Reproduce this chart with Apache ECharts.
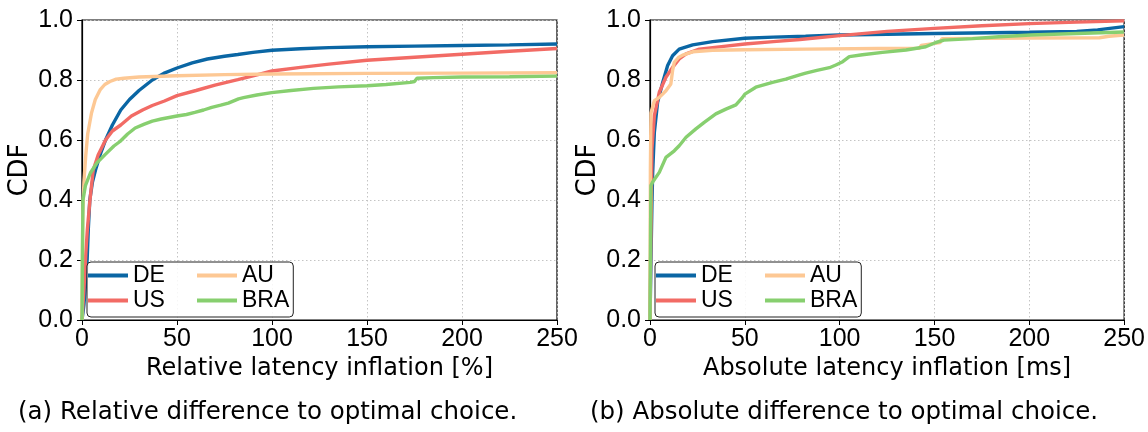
<!DOCTYPE html>
<html>
<head>
<meta charset="utf-8">
<script src="https://cdn.jsdelivr.net/npm/echarts@6/dist/echarts.min.js"></script>
<style>
  html, body { margin: 0; padding: 0; background: #fff; }
  #chart { width: 1148px; height: 432px; }
</style>
</head>
<body>
<div id="chart"></div>
<script>
// CDF curves of latency inflation per region, [inflation, cumulative fraction]
const seriesNames = ['DE', 'US', 'AU', 'BRA'];
const legendOrder = ['DE', 'AU', 'US', 'BRA'];
const xTicks = [0, 50, 100, 150, 200, 250];
const yTicks = [0.0, 0.2, 0.4, 0.6, 0.8, 1.0];

// (a) relative inflation [%]
const relDE = [[0,0],[1,0.05],[2,0.13],[2.7,0.2],[3.3,0.3],[4.1,0.4],[5.5,0.46],[7.1,0.5],[9.5,0.55],[12.4,0.6],[16,0.65],[20.4,0.7],[25,0.735],[30,0.765],[37,0.8],[43,0.822],[50,0.84],[58,0.857],[66,0.87],[75,0.879],[82,0.885],[90,0.892],[100,0.899],[115,0.904],[130,0.908],[150,0.911],[175,0.913],[200,0.915],[225,0.917],[250,0.92]];
const relUS = [[0,0],[1,0.1],[2,0.22],[2.8,0.3],[4.2,0.4],[5.9,0.5],[8.5,0.55],[12.4,0.6],[16,0.63],[20.4,0.65],[26,0.68],[31.9,0.7],[37,0.715],[43.4,0.73],[50,0.748],[60,0.765],[70,0.783],[82,0.801],[90,0.814],[100,0.83],[115,0.842],[130,0.853],[150,0.866],[175,0.876],[200,0.886],[225,0.896],[250,0.905]];
const relAU = [[0,0],[0.4,0.35],[1,0.46],[2,0.55],[3,0.62],[5,0.69],[7,0.735],[9.5,0.767],[12,0.785],[14.7,0.795],[18,0.803],[22,0.806],[30,0.81],[50,0.814],[75,0.818],[100,0.82],[150,0.822],[200,0.823],[250,0.824]];
const relBRA = [[0,0],[0.2,0.2],[0.5,0.4],[1.8,0.448],[4.4,0.49],[8,0.525],[12.4,0.553],[16.8,0.58],[20,0.595],[24,0.62],[28,0.64],[32.8,0.653],[37,0.663],[41.7,0.67],[50,0.68],[55,0.685],[59.4,0.692],[64,0.7],[68.3,0.709],[73,0.716],[77,0.723],[82.4,0.737],[85,0.741],[92,0.75],[99.8,0.758],[110,0.765],[121.8,0.772],[135,0.777],[150,0.781],[160,0.785],[172.8,0.792],[175,0.795],[176.3,0.806],[185,0.808],[200,0.81],[225,0.811],[250,0.813]];

// (b) absolute inflation [ms]
const absDE = [[0,0],[0.5,0.2],[1,0.38],[1.4,0.49],[2.3,0.626],[4,0.726],[6.7,0.792],[9.3,0.848],[11.9,0.881],[15.4,0.903],[22.5,0.917],[33,0.928],[50,0.939],[65,0.943],[82,0.946],[100,0.95],[150,0.955],[200,0.959],[225,0.962],[236,0.967],[250,0.978]];
const absUS = [[0,0],[0.5,0.3],[0.8,0.45],[1,0.57],[2.3,0.681],[4.9,0.759],[8.4,0.809],[11.9,0.842],[15.4,0.87],[19,0.887],[26,0.903],[40,0.913],[50,0.92],[65,0.928],[79,0.935],[100,0.948],[125,0.962],[150,0.972],[175,0.981],[200,0.988],[225,0.993],[250,0.997]];
const absAU = [[0,0],[0.2,0.5],[0.5,0.69],[2.3,0.731],[4.9,0.742],[8.4,0.764],[11,0.787],[11.9,0.831],[12.8,0.859],[15,0.875],[17.2,0.883],[22.5,0.894],[33,0.899],[50,0.901],[82,0.903],[120,0.905],[142,0.906],[143,0.915],[150,0.922],[153,0.925],[154,0.938],[200,0.94],[237,0.941],[242,0.946],[250,0.95]];
const absBRA = [[0,0],[0.3,0.3],[0.5,0.448],[1.4,0.46],[4.9,0.492],[8.4,0.542],[12.8,0.564],[15.4,0.581],[19,0.609],[24.2,0.637],[28.6,0.659],[34.7,0.687],[40,0.703],[45.3,0.717],[48.8,0.742],[50,0.753],[55.8,0.776],[64.6,0.792],[71.6,0.803],[78.9,0.817],[82.1,0.823],[88,0.832],[94.6,0.841],[98,0.85],[101.6,0.861],[105.1,0.878],[112,0.884],[122.6,0.892],[135,0.9],[145.4,0.911],[150.7,0.925],[155,0.933],[170,0.938],[184,0.944],[200.7,0.95],[225,0.955],[249.8,0.96]];

const colors = { DE: '#0a66a4', US: '#f26b65', AU: '#fdc894', BRA: '#87cf6f' };
const relData = { DE: relDE, US: relUS, AU: relAU, BRA: relBRA };
const absData = { DE: absDE, US: absUS, AU: absAU, BRA: absBRA };

const tickFont = 'Liberation Sans';
const titleFont = 'DejaVu Sans';
const gridLine = { show: true, lineStyle: { color: '#c4c4c4', type: [1.5, 2.5], width: 1 } };

function xAxisFor(gridIndex, title) {
  return {
    type: 'value', gridIndex, min: 0, max: 250, interval: 50,
    name: title, nameLocation: 'middle', nameGap: 33,
    nameTextStyle: { fontFamily: titleFont, fontSize: 24, color: '#000' },
    axisLine: { onZero: false, lineStyle: { color: '#000', width: 1.2 } },
    axisTick: { show: true, length: 5, lineStyle: { color: '#000', width: 1 } },
    axisLabel: { fontFamily: tickFont, fontSize: 25, color: '#000', margin: 7,
                 formatter: v => xTicks.includes(v) ? String(v) : '' },
    splitLine: gridLine
  };
}
function yAxisFor(gridIndex) {
  return {
    type: 'value', gridIndex, min: 0, max: 1, interval: 0.2,
    name: 'CDF', nameLocation: 'middle', nameGap: 49, nameRotate: 90,
    nameTextStyle: { fontFamily: titleFont, fontSize: 26, color: '#000' },
    axisLine: { lineStyle: { color: '#000', width: 1.2 } },
    axisTick: { show: true, length: 5, lineStyle: { color: '#000', width: 1 } },
    axisLabel: { fontFamily: tickFont, fontSize: 25, color: '#000', margin: 9,
                 formatter: v => yTicks.find(t => Math.abs(t - v) < 1e-9).toFixed(1) },
    splitLine: gridLine
  };
}

function lineSeries(name, data, idx) {
  return {
    name, type: 'line', data, xAxisIndex: idx, yAxisIndex: idx,
    showSymbol: false, symbol: 'none', smooth: false,
    lineStyle: { color: colors[name], width: 3.4 },
    itemStyle: { color: colors[name] },
    emphasis: { disabled: true }
  };
}

// two-column legend: first-column entries get a fixed label width
function legendAt(left) {
  return {
    left, top: 262, width: 206,
    orient: 'horizontal',
    data: legendOrder.map((n, i) => i % 2 === 0
      ? { name: n, textStyle: { width: 64 } }
      : { name: n }),
    icon: 'rect', itemWidth: 40, itemHeight: 4, itemGap: 0,
    textStyle: { fontFamily: tickFont, fontSize: 23, color: '#000', lineHeight: 25 },
    backgroundColor: 'rgba(255,255,255,0.85)',
    borderColor: '#222', borderWidth: 1, borderRadius: 4,
    padding: [1, 4, 4, 1]
  };
}

const grids = [
  { left: 82, top: 20, width: 475, height: 300, show: true, borderColor: '#000', borderWidth: 1.2, backgroundColor: 'transparent' },
  { left: 650, top: 20, width: 475, height: 300, show: true, borderColor: '#000', borderWidth: 1.2, backgroundColor: 'transparent' }
];

const chart = echarts.init(document.getElementById('chart'), null, { renderer: 'canvas' });
chart.setOption({
  animation: false,
  backgroundColor: '#fff',
  grid: grids,
  xAxis: [xAxisFor(0, 'Relative latency inflation [%]'), xAxisFor(1, 'Absolute latency inflation [ms]')],
  yAxis: [yAxisFor(0), yAxisFor(1)],
  legend: [legendAt(87), legendAt(655)],
  series: [
    ...seriesNames.map(n => lineSeries(n, relData[n], 0)),
    ...seriesNames.map(n => lineSeries(n, absData[n], 1))
  ],
  graphic: [
    { type: 'text', left: 18, top: 400, style: { text: '(a) Relative difference to optimal choice.', fontFamily: titleFont, fontSize: 24.5, fill: '#000' } },
    { type: 'text', left: 590, top: 400, style: { text: '(b) Absolute difference to optimal choice.', fontFamily: titleFont, fontSize: 24.5, fill: '#000' } }
  ]
});
</script>
</body>
</html>
